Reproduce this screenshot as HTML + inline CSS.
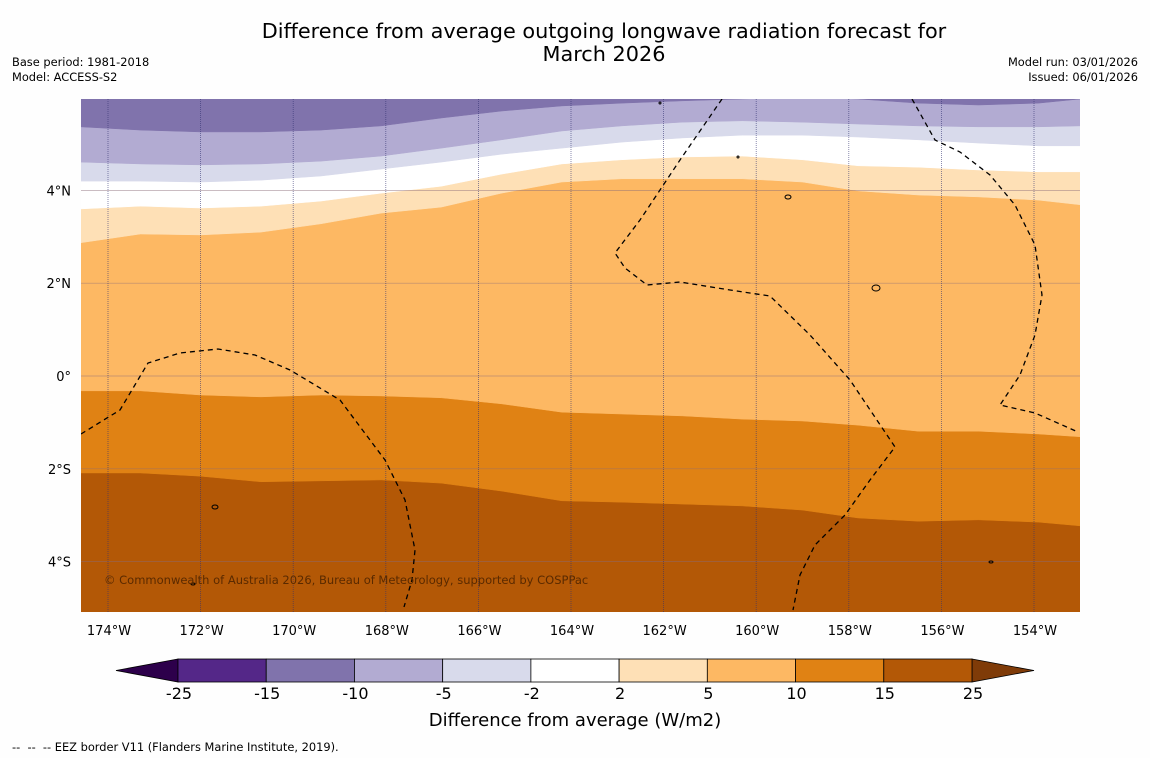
<!DOCTYPE html>
<html><head><meta charset="utf-8"><style>
body{margin:0;background:#fff;font-family:"DejaVu Sans","Liberation Sans",sans-serif;}
#wrap{position:relative;width:1150px;height:758px;overflow:hidden;background:#fefefe}
.t{position:absolute;color:#000}
</style></head><body>
<div id="wrap">
<div class="t" style="left:0;width:1150px;top:20px;text-align:center;font-size:20.8px;line-height:23px;padding-left:58px;box-sizing:border-box">Difference from average outgoing longwave radiation forecast for<br>March 2026</div>
<div class="t" style="left:12px;top:55px;font-size:11.4px;line-height:15px">Base period: 1981-2018<br>Model: ACCESS-S2</div>
<div class="t" style="right:12px;top:55px;font-size:11.4px;line-height:15px;text-align:right">Model run: 03/01/2026<br>Issued: 06/01/2026</div>
<div class="t" style="left:12px;top:740px;font-size:11.4px">--&nbsp; --&nbsp; -- EEZ border V11 (Flanders Marine Institute, 2019).</div>
<svg id="svg" width="1150" height="758" style="position:absolute;left:0;top:0"></svg>
</div>
<script>
const lons=[-174.6,-173.3,-172,-170.7,-169.4,-168.1,-166.8,-165.5,-164.2,-162.9,-161.6,-160.3,-159,-157.8,-156.5,-155.2,-153.9,-153];
const b15_25=[-2.09,-2.09,-2.16,-2.28,-2.26,-2.24,-2.31,-2.48,-2.69,-2.72,-2.76,-2.80,-2.89,-3.06,-3.13,-3.10,-3.15,-3.23];
const b10_15=[-0.32,-0.32,-0.41,-0.45,-0.41,-0.43,-0.47,-0.60,-0.78,-0.82,-0.86,-0.93,-0.97,-1.06,-1.19,-1.19,-1.25,-1.31];
const b5_10=[2.87,3.06,3.04,3.10,3.28,3.51,3.64,3.94,4.18,4.25,4.25,4.25,4.18,3.99,3.90,3.86,3.79,3.69];
const b2_5=[3.60,3.66,3.62,3.66,3.77,3.94,4.09,4.35,4.57,4.66,4.72,4.74,4.66,4.53,4.50,4.44,4.40,4.40];
const bm2=[4.20,4.20,4.18,4.22,4.31,4.46,4.61,4.78,4.91,5.04,5.13,5.19,5.19,5.15,5.09,5.02,4.96,4.96];
const bm5=[4.61,4.57,4.55,4.57,4.63,4.74,4.91,5.09,5.28,5.39,5.47,5.50,5.47,5.43,5.39,5.37,5.37,5.39];
const bm10=[5.37,5.30,5.26,5.26,5.30,5.39,5.56,5.71,5.82,5.88,5.93,5.97,6.01,5.97,5.88,5.84,5.88,5.97];
const lonTicks=[-174,-172,-170,-168,-166,-164,-162,-160,-158,-156,-154];
const latTicks=[4,2,0,-2,-4];
const cbLevels=[-25,-15,-10,-5,-2,2,5,10,15,25];
const cbColors=['#542788','#8073ac','#b2abd2','#d8daeb','#ffffff','#fee0b6','#fdb863','#e08214','#b35806'];

const NS='http://www.w3.org/2000/svg';
const svg=document.getElementById('svg');
const X0=81,X1=1080,Y0=99,Y1=612;
const xS=lon=>108+(lon+174)*46.3;
const yS=lat=>376-lat*46.4;
function mk(tag,attrs,parent){const e=document.createElementNS(NS,tag);for(const k in attrs)e.setAttribute(k,attrs[k]);(parent||svg).appendChild(e);return e;}
const defs=mk('defs',{});
const cp=mk('clipPath',{id:'mc'},defs);mk('rect',{x:X0,y:Y0,width:X1-X0,height:Y1-Y0},cp);
const g=mk('g',{'clip-path':'url(#mc)'});


const bg=mk('rect',{x:X0,y:Y0,width:X1-X0,height:Y1-Y0,fill:'#b35806'},g);


const bands=[[b15_25,'#e08214','band-10-15'],[b10_15,'#fdb863','band-5-10'],[b5_10,'#fee0b6','band-2-5'],[b2_5,'#ffffff','band-neutral'],[bm2,'#d8daeb','band-minus-2-5'],[bm5,'#b2abd2','band-minus-5-10'],[bm10,'#8073ac','band-minus-10-15']];
bands.forEach(([arr,col,name])=>{
  let d='M'+(X0-5)+','+(Y0-20);
  d+=' L'+(X0-5)+','+yS(arr[0]);
  lons.forEach((lo,i)=>{d+=' L'+xS(lo)+','+yS(arr[i]);});
  d+=' L'+(X1+5)+','+yS(arr[arr.length-1])+' L'+(X1+5)+','+(Y0-20)+'Z';
  const p=mk('path',{d:d,fill:col,stroke:col,'stroke-width':0.5},g);
  
  
});
latTicks.forEach(la=>{const l=mk('line',{x1:X0,x2:X1,y1:yS(la),y2:yS(la),stroke:'#8a6a7a','stroke-width':0.7,'stroke-opacity':0.6},g);

});
lonTicks.forEach(lo=>{const l=mk('line',{x1:xS(lo),x2:xS(lo),y1:Y0,y2:Y1,stroke:'#303070','stroke-width':0.8,'stroke-dasharray':'1,1','stroke-opacity':0.7},g);

});
const eez=[
'M81,434 L120,410 L148,363 L180,353 L218,349 L255,355 L290,370 L340,400 L385,460 L405,500 L415,550 L412,580 L404,607',
'M722,99 L680,160 L640,220 L615,253 L625,268 L647,285 L680,282 L730,290 L770,296 L810,335 L850,380 L895,447 L870,480 L845,515 L815,545 L800,575 L793,610',
'M912,99 L935,140 L960,152 L990,175 L1015,205 L1035,245 L1042,295 L1035,335 L1020,375 L1000,405 L1035,413 L1078,432'];
eez.forEach(d=>{const p=mk('path',{d:d,fill:'none',stroke:'#000','stroke-width':1.3,'stroke-dasharray':'5,4'},g);

});
[[788,197,3,2],[876,288,4,3],[215,507,3,2],[660,103,1,1],[738,157,1,1],[193,584,2,1],[991,562,2,1]].forEach(([x,y,rx,ry])=>{
const e=mk('ellipse',{cx:x,cy:y,rx:rx,ry:ry,fill:'none',stroke:'#000','stroke-width':1},g);

});
const cr=mk('text',{x:104,y:584,'font-size':11.5,fill:'#5a2a00','font-family':'DejaVu Sans, Liberation Sans, sans-serif'},g);
cr.textContent='© Commonwealth of Australia 2026, Bureau of Meteorology, supported by COSPPac';


const fmtLon=v=>Math.abs(v)+'°W';
const fmtLat=v=>v===0?'0°':Math.abs(v)+'°'+(v>0?'N':'S');
lonTicks.forEach(lo=>{const t=mk('text',{x:xS(lo)+1,y:635,'text-anchor':'middle','font-size':13,'font-family':'DejaVu Sans, Liberation Sans, sans-serif'});t.textContent=fmtLon(lo);

});
latTicks.forEach(la=>{const t=mk('text',{x:71,y:yS(la)+5,'text-anchor':'end','font-size':13,'font-family':'DejaVu Sans, Liberation Sans, sans-serif'});t.textContent=fmtLat(la);

});
const cbX0=178,cbX1=972,cbY=659,cbH=23;
const segW=(cbX1-cbX0)/(cbLevels.length-1);
const lt=mk('path',{d:`M${cbX0},${cbY} L116,${cbY+cbH/2} L${cbX0},${cbY+cbH}Z`,fill:'#2d004b',stroke:'#000','stroke-width':0.8});


const rt=mk('path',{d:`M${cbX1},${cbY} L1034,${cbY+cbH/2} L${cbX1},${cbY+cbH}Z`,fill:'#7f3b08',stroke:'#000','stroke-width':0.8});


cbColors.forEach((c,i)=>{const r=mk('rect',{x:cbX0+i*segW,y:cbY,width:segW,height:cbH,fill:c,stroke:'#000','stroke-width':0.8});

});
cbLevels.forEach((v,i)=>{const t=mk('text',{x:cbX0+i*segW+1,y:699,'text-anchor':'middle','font-size':16,'font-family':'DejaVu Sans, Liberation Sans, sans-serif'});t.textContent=v;

});
const ct=mk('text',{x:575,y:726,'text-anchor':'middle','font-size':18,'font-family':'DejaVu Sans, Liberation Sans, sans-serif'});
ct.textContent='Difference from average (W/m2)';


</script>
</body></html>
